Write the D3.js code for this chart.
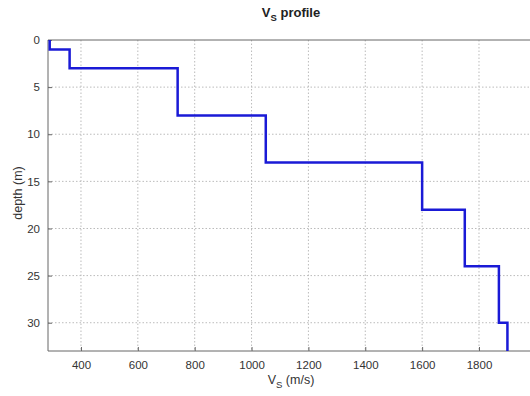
<!DOCTYPE html>
<html>
<head>
<meta charset="utf-8">
<script src="https://cdn.jsdelivr.net/npm/d3@7"></script>
<style>
  body { margin: 0; background: #fff; }
  text { font-family: "Liberation Sans", Arial, sans-serif; }
</style>
</head>
<body>
<script>
// layer velocities (m/s) and the depth where each layer starts/ends (m)
const vs = [290, 360, 740, 1050, 1600, 1750, 1870, 1900]
const depthTop = [0, 1, 3, 8, 13, 18, 24, 30]
const depthBottom = [1, 3, 8, 13, 18, 24, 30, 33]
const xTicks = [400, 600, 800, 1000, 1200, 1400, 1600, 1800]
const yTicks = [0, 5, 10, 15, 20, 25, 30]

const width = 530, height = 396
const plotLeft = 48, plotTop = 40, plotBottom = 351

let svg = d3.select('body').append('svg')
    .attr('width', width)
    .attr('height', height)

let x = d3.scaleLinear().domain([284, 2000]).range([plotLeft, plotLeft + 1716 * 0.2843])
let y = d3.scaleLinear().domain([0, 33]).range([plotTop, plotBottom])

svg.append('defs').append('clipPath').attr('id', 'clip')
    .append('rect').attr('x', plotLeft).attr('y', plotTop - 2).attr('width', width - plotLeft).attr('height', plotBottom - plotTop + 4)

// grid
let grid = svg.append('g').attr('stroke', '#bbb').attr('stroke-dasharray', '1.5,2').attr('stroke-width', 1)
grid.selectAll('.gx').data(xTicks).join('line')
    .attr('x1', d => x(d)).attr('x2', d => x(d)).attr('y1', plotTop).attr('y2', plotBottom)
grid.selectAll('.gy').data(yTicks.slice(1)).join('line')
    .attr('x1', plotLeft).attr('x2', width).attr('y1', d => y(d)).attr('y2', d => y(d))

// axes
let xAxis = svg.append('g').attr('transform', `translate(0,${plotBottom})`)
    .call(d3.axisBottom(x).tickValues(xTicks).tickSize(-4).tickPadding(10).tickFormat(d3.format('d')))
let yAxis = svg.append('g').attr('transform', `translate(${plotLeft},0)`)
    .call(d3.axisLeft(y).tickValues(yTicks).tickSize(-4).tickPadding(8))
svg.selectAll('.domain').remove()
svg.selectAll('.tick line').attr('stroke', '#666')
svg.selectAll('.tick text').attr('font-size', 11.5).attr('fill', '#333')

// box edges
svg.append('line').attr('x1', plotLeft).attr('x2', width).attr('y1', plotTop).attr('y2', plotTop).attr('stroke', '#666')
svg.append('line').attr('x1', plotLeft).attr('x2', width).attr('y1', plotBottom).attr('y2', plotBottom).attr('stroke', '#666')
svg.append('line').attr('x1', plotLeft).attr('x2', plotLeft).attr('y1', plotTop).attr('y2', plotBottom).attr('stroke', '#666')

// step profile
let pts = []
vs.forEach((v, i) => { pts.push([v, depthTop[i]]); pts.push([v, depthBottom[i]]) })
svg.append('path')
    .attr('clip-path', 'url(#clip)')
    .attr('d', d3.line().x(d => x(d[0])).y(d => y(d[1]))(pts))
    .attr('fill', 'none')
    .attr('stroke', '#1a1ad6')
    .attr('stroke-width', 2.5)

// title and labels
let title = svg.append('text').attr('x', 291).attr('y', 17).attr('text-anchor', 'middle')
    .attr('font-size', 13).attr('font-weight', 'bold').attr('fill', '#222')
title.append('tspan').text('V')
title.append('tspan').attr('font-size', 9.5).attr('dy', 4).text('S')
title.append('tspan').attr('dy', -4).text(' profile')

let xl = svg.append('text').attr('x', 291).attr('y', 384).attr('text-anchor', 'middle')
    .attr('font-size', 12.5).attr('fill', '#333')
xl.append('tspan').text('V')
xl.append('tspan').attr('font-size', 9.5).attr('dy', 4).text('S')
xl.append('tspan').attr('dy', -4).text(' (m/s)')

svg.append('text').attr('transform', 'translate(22,193) rotate(-90)').attr('text-anchor', 'middle')
    .attr('font-size', 12.5).attr('fill', '#333').text('depth (m)')
</script>
</body>
</html>
